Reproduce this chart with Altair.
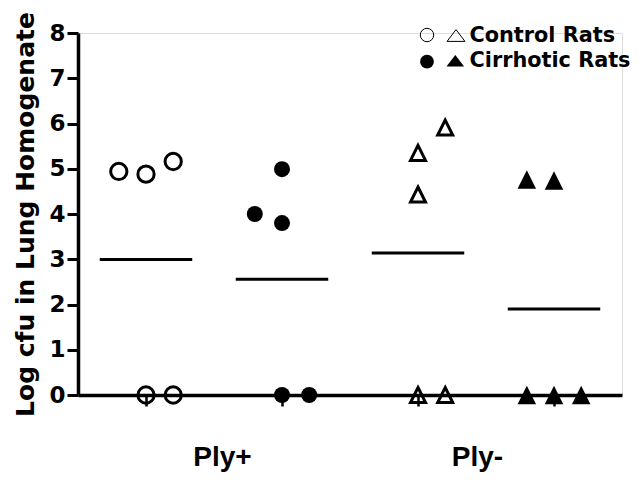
import altair as alt
import pandas as pd

# ---- data ----
groups = ["Control Ply+", "Cirrhotic Ply+", "Control Ply-", "Cirrhotic Ply-"]
g1_values = [4.94, 4.88, 5.16, 0.0, 0.0]
g1_slots = [-1, 0, 1, 0, 1]
g2_values = [4.00, 4.99, 3.80, 0.0, 0.0]
g2_slots = [-1, 0, 0, 0, 1]
g3_values = [5.91, 5.35, 4.43, 0.0, 0.0]
g3_slots = [1, 0, 0, 0, 1]
g4_values = [4.76, 4.74, 0.0, 0.0, 0.0]
g4_slots = [-1, 0, -1, 0, 1]
x_labels = ["Ply+", "Ply-"]
y_ticks = [0, 1, 2, 3, 4, 5, 6, 7, 8]
legend_labels = ["Control Rats", "Cirrhotic Rats"]
y_title = "Log cfu in Lung Homogenate"

rows = []
for gi, (vals, slots) in enumerate([(g1_values, g1_slots), (g2_values, g2_slots),
                                    (g3_values, g3_slots), (g4_values, g4_slots)]):
    for v, s in zip(vals, slots):
        rows.append({"group": groups[gi], "gi": gi, "slot": s, "value": v})
df = pd.DataFrame(rows)

W, H = 544, 362
TRI = "M0,-1L1,1L-1,1Z"
TRI_FLAT = "M0,-0.66L1,0.66L-1,0.66Z"

group_ticks = [i + 0.5 for i in range(len(groups))]
label_pos = [1, 3]
x_axis = alt.Axis(
    values=group_ticks + label_pos,
    title="",
    labelExpr=f"datum.value == {label_pos[0]} ? '{x_labels[0]}' : datum.value == {label_pos[1]} ? '{x_labels[1]}' : ''",
    labelFont="Liberation Sans", labelFontWeight="bold", labelFontSize=28, labelColor="black",
    labelBaseline="alphabetic", labelPadding=59, labelOverlap=False, labelFlush=False,
    labelOffset={"condition": {"test": f"datum.value == {label_pos[0]}", "value": 8}, "value": -9},
    tickOpacity={"condition": {"test": f"datum.value == {label_pos[0]} || datum.value == {label_pos[1]}", "value": 0}, "value": 1},
    tickSize=11, tickWidth=2.5, tickColor="black",
    domainColor="black", domainWidth=3.5, grid=False,
)
y_axis = alt.Axis(
    values=y_ticks, title=y_title,
    titleFont="DejaVu Sans", titleFontWeight="bold", titleFontSize=25, titleColor="black",
    titleAngle=270, titleBaseline="alphabetic", titleAlign="center", titleX=-44.7, titleY=H / 2,
    labelFont="DejaVu Sans", labelFontWeight="bold", labelFontSize=23, labelColor="black",
    labelPadding=2, labelFlush=False,
    tickSize=11, tickWidth=3, tickColor="black",
    domainColor="black", domainWidth=3.5, grid=False,
)
x_scale = alt.Scale(domain=[0, 4], nice=False, zero=False)
y_scale = alt.Scale(domain=[0, 8], nice=False)


def xenc(f):
    return alt.X(f"{f}:Q", scale=x_scale, axis=x_axis)


def yenc(f):
    return alt.Y(f"{f}:Q", scale=y_scale, axis=y_axis)


base = alt.Chart(df).transform_calculate(xpos="datum.gi + 0.5 + datum.slot * 0.2")

means = alt.Chart(df).transform_aggregate(
    mean="mean(value)", groupby=["gi"]
).transform_calculate(
    x1="datum.gi + 0.5 - 0.34", x2="datum.gi + 0.5 + 0.34"
).mark_rule(strokeWidth=3, color="black").encode(x=xenc("x1"), x2="x2:Q", y=yenc("mean"))


def pts(gi, **mk):
    return base.transform_filter(f"datum.gi == {gi}").mark_point(
        color="black", opacity=1, **mk
    ).encode(x=xenc("xpos"), y=yenc("value"))


p1 = pts(0, shape="circle", filled=False, size=265, strokeWidth=3)
p2 = pts(1, shape="circle", filled=True, size=256)
p3 = pts(2, shape=TRI, filled=False, size=225, strokeWidth=3)
p4 = pts(3, shape=TRI, filled=True, size=342)

one = pd.DataFrame({"k": [0]})


def leg_sym(x, y, **mk):
    return alt.Chart(one).mark_point(color="black", opacity=1, **mk).encode(
        x=alt.value(x), y=alt.value(y))


def leg_txt(label, x, y):
    return alt.Chart(pd.DataFrame({"label": [label]})).mark_text(
        font="DejaVu Sans", fontWeight="bold", fontSize=20.8, color="black",
        align="left", baseline="alphabetic"
    ).encode(text="label:N", x=alt.value(x), y=alt.value(y))


legend = [
    leg_sym(349, 2, shape="circle", filled=False, size=180, strokeWidth=1),
    leg_sym(378, 2.5, shape=TRI_FLAT, filled=False, size=320, strokeWidth=1),
    leg_sym(349, 28.7, shape="circle", filled=True, size=190),
    leg_sym(377.3, 27.8, shape=TRI_FLAT, filled=True, size=310),
    leg_txt(legend_labels[0], 391.5, 8.7),
    leg_txt(legend_labels[1], 391.5, 33.7),
]

chart = alt.layer(means, p1, p2, p3, p4, *legend).properties(
    width=W, height=H,
    autosize=alt.AutoSizeParams(type="none"),
    padding={"left": 70, "top": 25, "right": 12, "bottom": 77},
).configure_view(strokeWidth=0).configure(background="white")

chart.save("out.html", embed_options={"renderer": "svg", "actions": False})
